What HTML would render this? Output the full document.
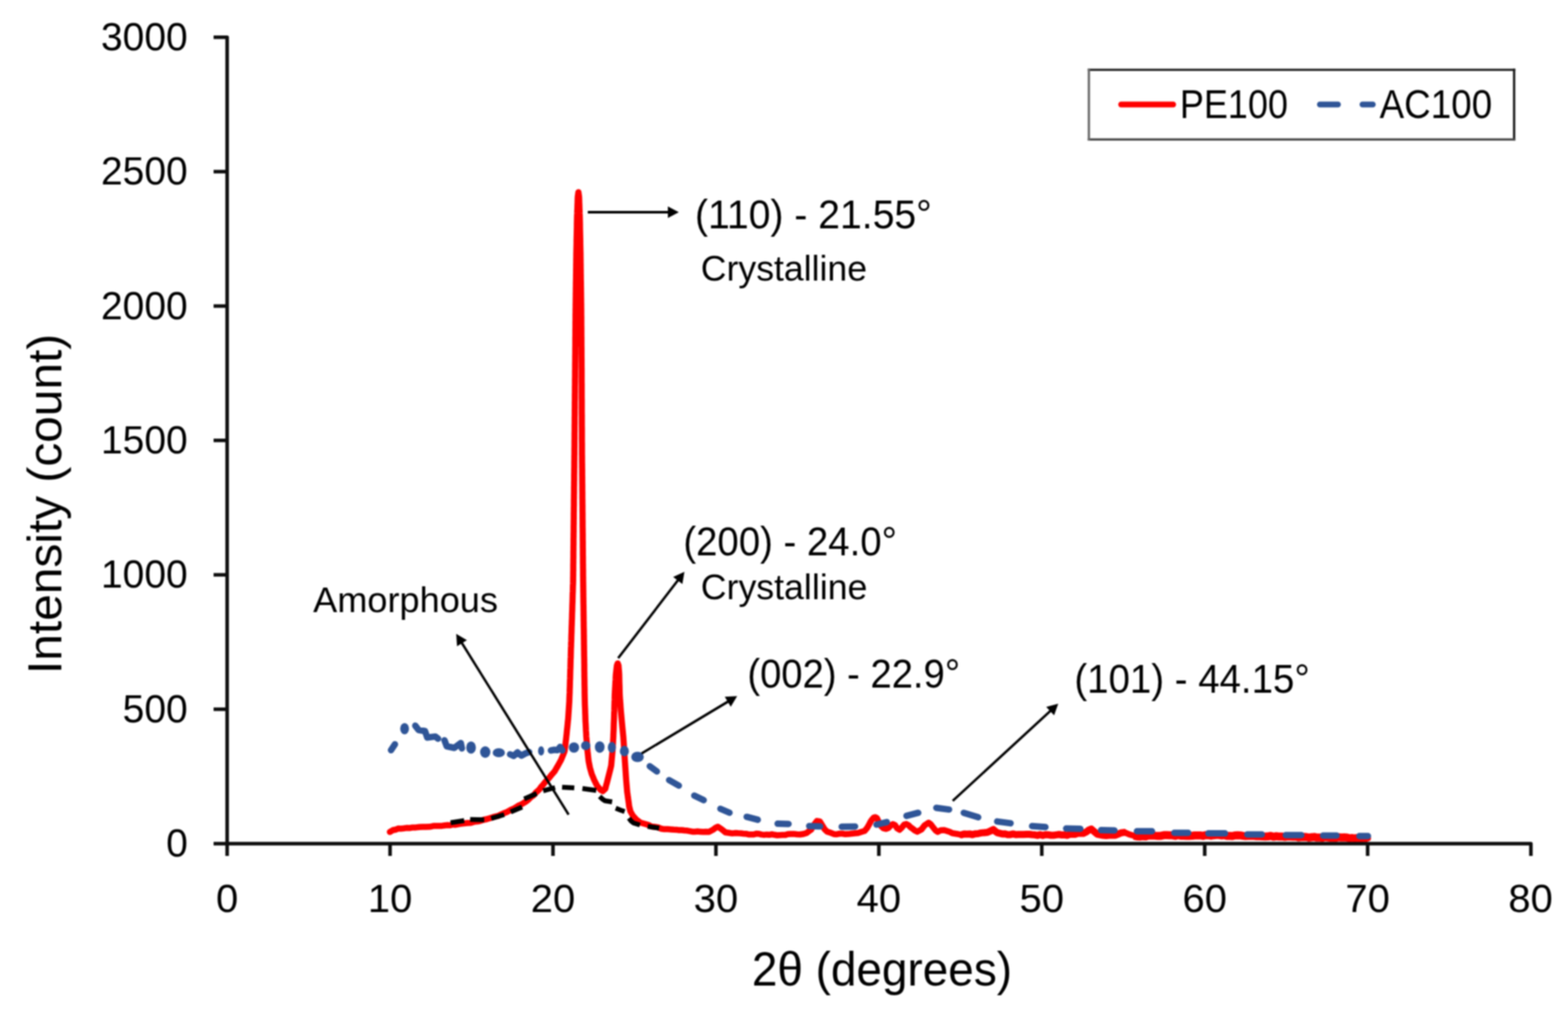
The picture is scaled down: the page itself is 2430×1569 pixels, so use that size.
<!DOCTYPE html><html><head><meta charset="utf-8"><title>XRD PE100 AC100</title><style>html,body{margin:0;padding:0;background:#fff;}svg{display:block;filter:blur(0.9px);}text{font-family:"Liberation Sans",sans-serif;fill:#000;}</style></head><body>
<svg width="2430" height="1569" viewBox="0 0 2430 1569">
<rect x="0" y="0" width="2430" height="1569" fill="#fff"/>
<polyline points="604.2,1289.8 609.0,1287.0 613.0,1286.3 617.0,1284.6 621.3,1284.7 625.7,1284.2 630.0,1283.6 634.8,1283.7 639.7,1282.9 644.5,1282.9 649.7,1282.2 654.8,1281.9 660.0,1281.9 665.9,1281.8 671.7,1280.6 676.1,1280.4 680.4,1280.4 684.8,1280.4 689.1,1279.7 693.5,1279.2 697.6,1279.5 701.8,1278.2 705.9,1278.7 710.0,1277.8 714.8,1277.1 719.6,1276.5 724.4,1276.1 729.6,1275.7 734.8,1274.1 740.0,1273.6 744.8,1272.5 749.5,1271.0 754.3,1270.0 760.0,1268.2 764.0,1266.9 768.0,1265.8 772.0,1265.0 776.4,1262.8 780.9,1260.7 785.3,1259.1 788.9,1257.1 792.4,1255.1 796.0,1253.8 799.6,1251.7 803.3,1249.2 807.0,1247.6 810.6,1245.5 814.8,1242.9 819.0,1239.7 823.2,1235.5 827.5,1232.5 830.3,1228.8 833.2,1226.3 836.0,1223.8 838.8,1219.8 841.6,1216.8 844.4,1213.0 848.2,1209.2 852.0,1204.8 855.8,1200.1 859.5,1195.9 862.0,1191.5 864.4,1187.5 867.0,1182.8 869.5,1178.2 872.5,1171.0 875.0,1164.5 875.5,1160.0 876.1,1155.4 876.6,1150.9 877.2,1146.3 877.7,1141.8 878.2,1137.2 878.6,1132.7 879.1,1128.2 879.6,1123.6 880.0,1119.0 880.5,1114.5 880.8,1110.0 881.1,1105.4 881.4,1100.9 881.7,1096.4 882.0,1091.8 882.3,1087.3 882.4,1082.8 882.6,1078.2 882.8,1073.7 882.9,1069.1 883.1,1064.5 883.2,1060.0 883.3,1055.9 883.5,1051.7 883.6,1047.6 883.7,1043.5 883.8,1039.3 884.0,1035.2 884.1,1031.1 884.2,1026.9 884.3,1022.8 884.5,1018.7 884.6,1014.5 884.7,1010.4 884.8,1006.1 885.0,1001.9 885.1,997.6 885.3,993.4 885.4,989.1 885.5,984.8 885.7,980.6 885.8,976.3 885.9,972.0 886.1,967.8 886.2,963.5 886.4,959.3 886.5,955.0 886.6,950.8 886.8,946.5 886.9,942.3 887.0,938.1 887.2,933.8 887.3,929.6 887.4,925.4 887.5,921.2 887.7,916.9 887.8,912.7 887.9,908.5 888.1,904.2 888.2,900.0 888.2,896.0 888.3,892.0 888.3,888.0 888.4,884.0 888.4,880.0 888.4,876.0 888.5,872.0 888.5,868.0 888.6,864.0 888.6,860.0 888.6,856.0 888.7,852.0 888.7,848.0 888.8,844.0 888.8,840.0 888.8,836.0 888.9,832.0 888.9,828.0 889.0,824.0 889.0,820.0 889.0,816.0 889.1,812.0 889.1,808.0 889.2,804.0 889.2,800.0 889.2,796.0 889.3,792.0 889.3,788.0 889.4,784.0 889.4,780.0 889.4,776.0 889.5,772.0 889.5,768.0 889.6,764.0 889.6,760.0 889.6,756.0 889.7,752.0 889.7,748.0 889.8,744.0 889.8,740.0 889.8,736.0 889.9,732.0 889.9,728.0 890.0,724.0 890.0,720.0 890.0,716.0 890.1,712.0 890.1,708.0 890.2,704.0 890.2,700.0 890.2,696.0 890.3,692.0 890.3,688.0 890.3,684.0 890.4,680.0 890.4,676.0 890.4,672.0 890.5,668.0 890.5,664.0 890.5,660.0 890.6,656.0 890.6,652.0 890.6,648.0 890.7,644.0 890.7,640.0 890.7,636.0 890.8,632.0 890.8,628.0 890.8,624.0 890.9,620.0 890.9,616.0 890.9,612.0 891.0,608.0 891.0,604.0 891.0,600.0 891.1,596.0 891.1,592.0 891.1,588.0 891.2,584.0 891.2,580.0 891.2,576.0 891.3,572.0 891.3,568.0 891.3,564.0 891.4,560.0 891.4,556.0 891.4,552.0 891.5,548.0 891.5,544.0 891.5,540.0 891.6,536.0 891.6,532.0 891.6,528.0 891.6,524.0 891.7,520.0 891.7,516.0 891.7,512.0 891.8,508.0 891.8,504.0 891.8,500.0 891.9,496.0 891.9,492.0 891.9,488.0 892.0,484.0 892.0,480.0 892.1,475.9 892.1,471.8 892.2,467.7 892.2,463.6 892.3,459.5 892.3,455.5 892.4,451.4 892.4,447.3 892.5,443.2 892.5,439.1 892.6,435.0 892.7,430.9 892.7,426.8 892.8,422.7 892.8,418.6 892.9,414.5 892.9,410.5 893.0,406.4 893.0,402.3 893.1,398.2 893.1,394.1 893.2,390.0 893.3,385.8 893.4,381.5 893.5,377.3 893.5,373.1 893.6,368.8 893.7,364.6 893.8,360.4 893.9,356.2 894.0,351.9 894.0,347.7 894.1,343.5 894.2,339.2 894.3,335.0 894.5,330.7 894.6,326.4 894.8,322.1 894.9,317.9 895.1,313.6 895.2,309.3 895.4,305.0 896.4,298.0 897.4,305.0 897.6,309.3 897.7,313.6 897.9,317.9 898.0,322.1 898.2,326.4 898.3,330.7 898.5,335.0 898.6,339.2 898.7,343.5 898.8,347.7 898.8,351.9 898.9,356.2 899.0,360.4 899.1,364.6 899.2,368.8 899.3,373.1 899.3,377.3 899.4,381.5 899.5,385.8 899.6,390.0 899.7,394.1 899.7,398.2 899.8,402.3 899.8,406.4 899.9,410.5 899.9,414.5 900.0,418.6 900.0,422.7 900.1,426.8 900.1,430.9 900.2,435.0 900.3,439.1 900.3,443.2 900.4,447.3 900.4,451.4 900.5,455.5 900.5,459.5 900.6,463.6 900.6,467.7 900.7,471.8 900.7,475.9 900.8,480.0 900.8,484.0 900.8,488.0 900.9,492.0 900.9,496.0 900.9,500.0 900.9,504.0 901.0,508.0 901.0,512.0 901.0,516.0 901.0,520.0 901.1,524.0 901.1,528.0 901.1,532.0 901.1,536.0 901.2,540.0 901.2,544.0 901.2,548.0 901.2,552.0 901.3,556.0 901.3,560.0 901.3,564.0 901.3,568.0 901.4,572.0 901.4,576.0 901.4,580.0 901.4,584.0 901.4,588.0 901.4,592.0 901.5,596.0 901.5,600.0 901.5,604.0 901.5,608.0 901.5,612.0 901.5,616.0 901.6,620.0 901.6,624.0 901.6,628.0 901.6,632.0 901.6,636.0 901.6,640.0 901.7,644.0 901.7,648.0 901.7,652.0 901.7,656.0 901.7,660.0 901.8,664.0 901.8,668.0 901.8,672.0 901.8,676.0 901.8,680.0 901.8,684.0 901.9,688.0 901.9,692.0 901.9,696.0 901.9,700.0 901.9,704.0 902.0,708.0 902.0,712.0 902.0,716.0 902.1,720.0 902.1,724.0 902.2,728.0 902.2,732.0 902.2,736.0 902.3,740.0 902.3,744.0 902.3,748.0 902.4,752.0 902.4,756.0 902.4,760.0 902.5,764.0 902.5,768.0 902.5,772.0 902.6,776.0 902.6,780.0 902.7,784.0 902.7,788.0 902.7,792.0 902.8,796.0 902.8,800.0 902.8,804.0 902.9,808.0 902.9,812.0 902.9,816.0 903.0,820.0 903.0,824.0 903.1,828.0 903.1,832.0 903.1,836.0 903.2,840.0 903.2,844.0 903.2,848.0 903.3,852.0 903.3,856.0 903.3,860.0 903.4,864.0 903.4,868.0 903.4,872.0 903.5,876.0 903.5,880.0 903.6,884.0 903.6,888.0 903.6,892.0 903.7,896.0 903.7,900.0 903.8,904.1 903.8,908.2 903.9,912.3 903.9,916.4 904.0,920.4 904.0,924.5 904.1,928.6 904.1,932.7 904.2,936.8 904.3,940.9 904.3,945.0 904.4,949.1 904.4,953.2 904.5,957.2 904.5,961.3 904.6,965.4 904.6,969.5 904.7,973.6 904.8,977.7 904.8,981.8 904.9,985.9 904.9,990.0 905.0,994.0 905.0,998.1 905.1,1002.2 905.1,1006.3 905.2,1010.4 905.2,1014.5 905.3,1018.7 905.4,1022.8 905.4,1026.9 905.5,1031.1 905.5,1035.2 905.5,1039.3 905.6,1043.5 905.6,1047.6 905.7,1051.7 905.8,1055.9 905.8,1060.0 905.9,1064.5 906.0,1069.1 906.0,1073.7 906.1,1078.2 906.2,1082.8 906.3,1087.3 906.4,1091.8 906.6,1096.4 906.8,1100.9 906.9,1105.4 907.1,1110.0 907.2,1114.5 907.4,1119.0 907.7,1123.6 907.9,1128.2 908.1,1132.7 908.4,1137.2 908.6,1141.8 909.0,1146.3 909.4,1150.9 909.7,1155.4 910.1,1160.0 910.5,1164.5 911.1,1169.7 911.6,1174.8 912.2,1180.0 913.2,1185.0 914.2,1190.0 915.6,1195.0 917.0,1200.0 918.9,1204.5 920.7,1209.0 923.1,1213.8 925.5,1218.5 930.6,1224.4 934.0,1226.6 938.0,1223.0 939.2,1218.3 940.5,1213.7 941.7,1209.0 943.1,1203.5 944.5,1198.0 945.9,1192.5 947.2,1186.9 947.6,1182.5 948.0,1178.1 948.4,1173.8 948.8,1169.4 949.2,1165.0 949.5,1160.6 949.7,1156.1 950.0,1151.7 950.2,1147.2 950.5,1142.8 950.6,1138.7 950.8,1134.6 951.0,1130.5 951.1,1126.4 951.2,1122.3 951.4,1118.2 951.6,1114.1 951.7,1110.0 951.8,1105.8 952.0,1101.7 952.1,1097.5 952.2,1093.3 952.3,1089.1 952.5,1084.9 952.6,1080.8 952.7,1076.6 953.0,1072.1 953.2,1067.6 953.5,1063.1 953.7,1058.5 954.0,1054.0 954.2,1049.5 954.5,1045.0 955.0,1040.7 955.5,1036.3 956.0,1032.0 957.3,1028.5 958.6,1032.0 958.9,1036.3 959.3,1040.7 959.6,1045.0 959.7,1049.5 959.8,1054.0 959.9,1058.5 960.1,1063.1 960.2,1067.6 960.3,1072.1 960.4,1076.6 960.7,1081.3 961.0,1086.0 961.4,1090.6 961.7,1095.3 962.0,1100.0 962.4,1104.4 962.8,1108.8 963.2,1113.2 963.6,1117.6 964.0,1122.0 964.4,1126.2 964.8,1130.3 965.2,1134.5 965.6,1138.6 966.0,1142.8 966.3,1147.2 966.6,1151.6 966.9,1156.0 967.1,1160.4 967.4,1164.8 967.7,1169.2 968.0,1173.6 968.3,1178.0 968.6,1182.4 968.9,1186.9 969.2,1191.3 969.5,1195.7 969.8,1200.1 970.1,1204.6 970.4,1209.0 970.8,1213.8 971.2,1218.5 971.6,1223.2 972.0,1228.0 972.6,1232.0 973.1,1236.0 973.7,1240.0 974.4,1245.0 975.0,1250.0 976.0,1254.0 977.0,1258.0 979.0,1261.5 981.0,1265.0 986.0,1270.5 989.4,1273.0 992.8,1275.5 1000.0,1277.5 1005.0,1279.0 1010.0,1281.6 1014.8,1282.0 1019.5,1282.6 1024.3,1284.7 1029.5,1285.6 1034.8,1285.6 1040.0,1285.9 1044.1,1286.3 1048.3,1286.4 1052.4,1287.1 1056.6,1287.0 1060.7,1287.5 1064.9,1287.8 1069.0,1288.6 1073.0,1289.4 1077.0,1289.4 1081.0,1289.1 1085.0,1289.4 1089.6,1289.7 1094.3,1289.6 1098.9,1289.7 1105.0,1286.3 1108.7,1283.6 1112.4,1281.7 1118.0,1285.4 1124.3,1290.5 1129.5,1291.2 1134.8,1292.1 1140.0,1291.5 1144.0,1291.8 1148.0,1292.0 1152.0,1292.4 1156.0,1292.7 1160.0,1293.7 1164.0,1293.7 1168.0,1293.8 1172.0,1292.6 1176.0,1292.7 1180.0,1293.9 1184.1,1294.4 1188.1,1293.9 1192.2,1294.3 1196.2,1293.5 1200.3,1294.3 1204.4,1295.0 1208.5,1294.7 1212.7,1294.6 1216.8,1294.6 1220.9,1293.3 1225.0,1292.9 1230.0,1292.9 1235.0,1293.5 1240.0,1293.8 1245.0,1293.0 1250.0,1291.4 1253.5,1288.7 1257.0,1286.4 1259.5,1281.9 1262.0,1278.1 1266.0,1272.8 1268.3,1273.3 1270.5,1273.4 1274.0,1279.2 1276.0,1282.5 1278.0,1285.7 1282.0,1289.4 1287.2,1291.1 1292.4,1293.2 1296.8,1293.4 1301.2,1292.5 1305.6,1292.5 1310.0,1293.3 1314.6,1293.1 1319.3,1292.5 1323.9,1292.0 1329.5,1291.6 1335.0,1289.7 1340.0,1288.2 1344.0,1283.4 1347.0,1278.2 1349.0,1274.2 1351.0,1271.1 1354.0,1267.8 1356.4,1266.9 1359.0,1268.4 1362.0,1274.7 1365.0,1280.3 1369.0,1284.2 1373.1,1285.0 1377.0,1283.5 1380.5,1279.8 1383.6,1277.8 1387.0,1279.1 1390.5,1284.3 1394.1,1286.5 1398.0,1282.6 1401.5,1278.3 1404.6,1277.6 1408.0,1279.4 1411.0,1282.5 1414.0,1284.5 1417.7,1287.5 1421.3,1289.4 1428.0,1286.0 1433.0,1279.5 1436.5,1277.3 1439.2,1275.5 1442.0,1277.5 1446.0,1282.6 1450.0,1287.6 1453.0,1289.7 1458.0,1287.2 1463.3,1286.9 1468.0,1288.5 1471.9,1289.8 1475.8,1291.8 1480.5,1292.5 1485.3,1293.3 1490.0,1294.2 1494.2,1292.9 1498.5,1293.2 1502.8,1292.9 1507.0,1294.1 1511.2,1292.7 1515.5,1292.5 1520.3,1291.4 1525.2,1290.9 1530.0,1290.6 1534.7,1288.5 1539.4,1286.1 1542.7,1288.9 1546.0,1291.2 1553.2,1292.9 1557.4,1292.8 1561.6,1294.1 1565.8,1293.9 1570.0,1292.9 1574.2,1294.0 1578.3,1293.7 1582.5,1293.8 1586.7,1293.8 1590.9,1293.6 1595.1,1293.5 1599.3,1294.0 1603.5,1294.3 1607.7,1295.2 1611.9,1293.9 1616.1,1295.2 1620.3,1294.0 1624.5,1294.3 1628.7,1295.0 1632.8,1295.0 1637.0,1294.4 1641.2,1293.8 1645.4,1294.5 1649.6,1294.3 1653.8,1295.2 1658.0,1293.5 1662.2,1293.3 1666.4,1293.6 1670.6,1291.7 1674.8,1291.9 1679.0,1292.0 1683.1,1290.1 1687.1,1287.1 1691.2,1285.3 1697.0,1290.3 1700.6,1293.4 1704.2,1294.1 1709.2,1295.1 1714.1,1295.6 1719.0,1295.0 1724.0,1295.1 1728.5,1294.9 1733.0,1293.1 1737.4,1291.2 1741.9,1290.6 1746.0,1291.9 1750.0,1293.6 1757.4,1295.7 1761.9,1296.8 1766.4,1297.0 1771.0,1296.4 1775.5,1296.8 1780.0,1295.2 1784.8,1295.4 1789.5,1295.6 1794.3,1296.1 1799.0,1295.9 1803.8,1294.8 1808.2,1294.7 1812.5,1295.0 1816.9,1295.1 1821.2,1295.9 1825.6,1294.7 1830.0,1295.8 1834.3,1295.7 1838.7,1295.9 1843.0,1295.9 1847.4,1295.7 1851.6,1295.2 1855.8,1295.2 1860.0,1295.2 1864.2,1295.9 1868.4,1294.7 1872.6,1294.9 1876.7,1295.7 1880.9,1294.9 1885.1,1294.6 1889.3,1294.5 1893.5,1295.3 1897.7,1294.9 1901.7,1296.1 1905.8,1296.0 1909.8,1296.3 1913.8,1295.2 1917.9,1295.0 1921.9,1295.2 1926.0,1295.9 1930.0,1296.3 1934.3,1296.0 1938.7,1295.7 1943.0,1296.1 1947.4,1296.4 1951.8,1296.6 1956.1,1296.8 1960.5,1297.0 1964.8,1296.8 1969.2,1296.0 1973.6,1297.3 1978.0,1296.5 1982.4,1297.1 1986.8,1296.9 1991.2,1297.6 1995.6,1296.9 2000.0,1297.1 2004.1,1297.2 2008.2,1297.1 2012.3,1298.3 2016.4,1297.9 2020.5,1297.5 2024.6,1297.7 2028.7,1298.7 2032.8,1298.0 2036.8,1297.6 2040.9,1298.6 2045.0,1298.4 2049.1,1299.0 2053.2,1297.7 2057.3,1298.3 2061.4,1298.9 2065.5,1299.0 2069.8,1299.3 2074.1,1298.0 2078.4,1298.5 2082.8,1298.3 2087.1,1298.5 2091.4,1299.9 2095.7,1299.3 2100.0,1300.0 2104.0,1299.2 2108.0,1300.1 2112.0,1299.5 2116.0,1299.3 2120.0,1299.8" fill="none" stroke="#ff0000" stroke-width="9.5" stroke-linejoin="round" stroke-linecap="round"/>
<polyline points="1490.0,1294.2 1494.2,1292.9 1498.5,1293.2 1502.8,1292.9 1507.0,1294.1 1511.2,1292.7 1515.5,1292.5 1520.3,1291.4 1525.2,1290.9 1530.0,1290.6 1534.7,1288.5 1539.4,1286.1 1542.7,1288.9 1546.0,1291.2 1553.2,1292.9 1557.4,1292.8 1561.6,1294.1 1565.8,1293.9 1570.0,1292.9 1574.2,1294.0 1578.3,1293.7 1582.5,1293.8 1586.7,1293.8 1590.9,1293.6 1595.1,1293.5 1599.3,1294.0 1603.5,1294.3 1607.7,1295.2 1611.9,1293.9 1616.1,1295.2 1620.3,1294.0 1624.5,1294.3 1628.7,1295.0 1632.8,1295.0 1637.0,1294.4 1641.2,1293.8 1645.4,1294.5 1649.6,1294.3 1653.8,1295.2 1658.0,1293.5 1662.2,1293.3 1666.4,1293.6 1670.6,1291.7 1674.8,1291.9 1679.0,1292.0 1683.1,1290.1 1687.1,1287.1 1691.2,1285.3 1697.0,1290.3 1700.6,1293.4 1704.2,1294.1 1709.2,1295.1 1714.1,1295.6 1719.0,1295.0 1724.0,1295.1 1728.5,1294.9 1733.0,1293.1 1737.4,1291.2 1741.9,1290.6" fill="none" stroke="#ff0000" stroke-width="11" stroke-linejoin="round" stroke-linecap="round"/>
<polyline points="1757.4,1295.7 1761.9,1296.8 1766.4,1297.0 1771.0,1296.4 1775.5,1296.8 1780.0,1295.2 1784.8,1295.4 1789.5,1295.6 1794.3,1296.1 1799.0,1295.9 1803.8,1294.8 1808.2,1294.7 1812.5,1295.0 1816.9,1295.1 1821.2,1295.9 1825.6,1294.7 1830.0,1295.8 1834.3,1295.7 1838.7,1295.9 1843.0,1295.9 1847.4,1295.7 1851.6,1295.2 1855.8,1295.2 1860.0,1295.2 1864.2,1295.9 1868.4,1294.7 1872.6,1294.9 1876.7,1295.7 1880.9,1294.9 1885.1,1294.6 1889.3,1294.5 1893.5,1295.3 1897.7,1294.9 1901.7,1296.1 1905.8,1296.0 1909.8,1296.3 1913.8,1295.2 1917.9,1295.0 1921.9,1295.2 1926.0,1295.9 1930.0,1296.3 1934.3,1296.0 1938.7,1295.7 1943.0,1296.1 1947.4,1296.4 1951.8,1296.6 1956.1,1296.8 1960.5,1297.0 1964.8,1296.8 1969.2,1296.0 1973.6,1297.3 1978.0,1296.5 1982.4,1297.1 1986.8,1296.9 1991.2,1297.6 1995.6,1296.9 2000.0,1297.1 2004.1,1297.2 2008.2,1297.1 2012.3,1298.3 2016.4,1297.9 2020.5,1297.5 2024.6,1297.7 2028.7,1298.7 2032.8,1298.0 2036.8,1297.6 2040.9,1298.6 2045.0,1298.4 2049.1,1299.0 2053.2,1297.7 2057.3,1298.3 2061.4,1298.9 2065.5,1299.0 2069.8,1299.3 2074.1,1298.0 2078.4,1298.5 2082.8,1298.3 2087.1,1298.5 2091.4,1299.9 2095.7,1299.3 2100.0,1300.0 2104.0,1299.2 2108.0,1300.1 2112.0,1299.5 2116.0,1299.3 2120.0,1299.8" fill="none" stroke="#ff0000" stroke-width="12.5" stroke-linejoin="round" stroke-linecap="butt"/>
<path d="M606.0,1163.0 L612.0,1154.0 M643.6,1125.1 L648.7,1131.8 L658.7,1133.5 L662.1,1143.5 L674.7,1141.9 L678.9,1145.2 M688.9,1147.7 L692.3,1157.0 L704.0,1159.5 L714.1,1151.9 L715.8,1160.3 M790.5,1169.5 L796.0,1172.0 L802.0,1166.5 L808.0,1171.5 L814.5,1168.0 L820.0,1166.0 M853.8,1163.5 L859.0,1162.5 L864.0,1163.0 L868.0,1158.0 L871.5,1163.5 M1007.0,1188.0 L1018.0,1196.0 M1037.0,1209.5 L1052.0,1218.0 M1076.0,1233.5 L1090.5,1240.5 M1116.5,1254.0 L1130.5,1260.0 M1157.2,1266.4 L1174.3,1270.9 M1205.1,1277.0 L1222.0,1277.4 M1254.1,1280.7 L1271.0,1281.2 M1304.5,1281.8 L1325.1,1281.4 M1358.4,1278.5 L1374.3,1274.6 M1404.9,1264.9 L1423.0,1260.2 M1451.1,1252.5 L1470.8,1255.1 M1493.6,1260.2 L1515.9,1267.0 M1545.4,1273.6 L1566.1,1276.4 M1599.5,1280.8 L1620.1,1282.3 M1652.3,1284.5 L1674.2,1284.9 M1706.4,1287.0 L1727.1,1287.4 M1762.0,1288.8 L1785.2,1288.8 M1819.9,1291.3 L1841.4,1291.3 M1872.7,1292.1 L1898.4,1292.1 M1933.1,1293.8 L1955.5,1293.8 M1992.7,1294.7 L2016.7,1294.7 M2050.5,1295.5 L2071.3,1295.5 M2106.7,1296.3 L2119.9,1296.3" fill="none" stroke="#2f5597" stroke-width="10" stroke-linejoin="round" stroke-linecap="round"/>
<g fill="#2f5597"><ellipse cx="627" cy="1129.7" rx="6.80" ry="8.75"/><ellipse cx="730" cy="1159" rx="7.50" ry="9.50"/><ellipse cx="752" cy="1166" rx="8.00" ry="9.00"/><ellipse cx="773" cy="1167" rx="9.50" ry="7.00"/><ellipse cx="838.6" cy="1164.2" rx="4.75" ry="7.25"/><ellipse cx="889.5" cy="1159" rx="8.00" ry="8.00"/><ellipse cx="907.7" cy="1156" rx="7.25" ry="7.00"/><ellipse cx="929.4" cy="1158.2" rx="7.50" ry="9.00"/><ellipse cx="948.2" cy="1158.8" rx="6.25" ry="8.50"/><ellipse cx="967.6" cy="1164.5" rx="7.00" ry="8.20"/><ellipse cx="988" cy="1173.5" rx="9.75" ry="8.00"/></g>
<path d="M698.4,1275.5 L719.4,1272.2 M728.6,1270.5 L750.4,1271.0 M761.3,1268.8 L781.4,1263.0 M791.5,1258.8 L809.1,1251.2 M812.4,1238.6 L831.7,1230.3 M841.8,1226.1 L860.2,1221.0 M871.1,1220.4 L890.0,1221.6 M902.6,1222.5 L924.0,1225.5 M929.3,1234.8 L933.5,1238.8 L937.6,1241.5 L948.6,1243.3 M954.2,1253.1 L961.0,1255.8 L968.0,1258.2 M974.6,1268.5 L978.0,1272.8 L981.8,1276.0 L991.7,1279.0 M1003.8,1281.2 L1021.5,1284.0" fill="none" stroke="#000" stroke-width="7.5" stroke-linejoin="round" stroke-linecap="butt"/>
<g stroke="#0d0d0d" stroke-width="5.5" fill="none">
<path d="M331,57.7 H352 V1308" stroke-linejoin="round"/>
<path d="M331,1308 H2372.5 V1327" stroke-linejoin="round"/>
<path d="M331,266.1 H352"/>
<path d="M331,474.5 H352"/>
<path d="M331,682.8 H352"/>
<path d="M331,891.2 H352"/>
<path d="M331,1099.6 H352"/>
<path d="M352.0,1308 V1327"/>
<path d="M604.5,1308 V1327"/>
<path d="M857.0,1308 V1327"/>
<path d="M1109.5,1308 V1327"/>
<path d="M1362.0,1308 V1327"/>
<path d="M1614.5,1308 V1327"/>
<path d="M1867.0,1308 V1327"/>
<path d="M2119.5,1308 V1327"/>
</g>
<text x="291" y="77.7" font-size="62" text-anchor="end" textLength="134.5" lengthAdjust="spacingAndGlyphs">3000</text>
<text x="291" y="286.1" font-size="62" text-anchor="end" textLength="134.5" lengthAdjust="spacingAndGlyphs">2500</text>
<text x="291" y="494.5" font-size="62" text-anchor="end" textLength="134.5" lengthAdjust="spacingAndGlyphs">2000</text>
<text x="291" y="702.8" font-size="62" text-anchor="end" textLength="134.5" lengthAdjust="spacingAndGlyphs">1500</text>
<text x="291" y="911.2" font-size="62" text-anchor="end" textLength="134.5" lengthAdjust="spacingAndGlyphs">1000</text>
<text x="291" y="1119.6" font-size="62" text-anchor="end" textLength="100.9" lengthAdjust="spacingAndGlyphs">500</text>
<text x="291" y="1328.0" font-size="62" text-anchor="end" textLength="33.6" lengthAdjust="spacingAndGlyphs">0</text>
<text x="352.0" y="1413.5" font-size="62" text-anchor="middle">0</text>
<text x="604.5" y="1413.5" font-size="62" text-anchor="middle">10</text>
<text x="857.0" y="1413.5" font-size="62" text-anchor="middle">20</text>
<text x="1109.5" y="1413.5" font-size="62" text-anchor="middle">30</text>
<text x="1362.0" y="1413.5" font-size="62" text-anchor="middle">40</text>
<text x="1614.5" y="1413.5" font-size="62" text-anchor="middle">50</text>
<text x="1867.0" y="1413.5" font-size="62" text-anchor="middle">60</text>
<text x="2119.5" y="1413.5" font-size="62" text-anchor="middle">70</text>
<text x="2372.0" y="1413.5" font-size="62" text-anchor="middle">80</text>
<text x="1077.1" y="354.0" font-size="63" textLength="367.0" lengthAdjust="spacingAndGlyphs">(110) - 21.55°</text>
<text x="1059.0" y="861.4" font-size="63" textLength="331.0" lengthAdjust="spacingAndGlyphs">(200) - 24.0°</text>
<text x="1158.2" y="1065.6" font-size="63" textLength="329.7" lengthAdjust="spacingAndGlyphs">(002) - 22.9°</text>
<text x="1665.0" y="1073.7" font-size="63" textLength="364.7" lengthAdjust="spacingAndGlyphs">(101) - 44.15°</text>
<text x="1086.0" y="435.0" font-size="55" textLength="257.8" lengthAdjust="spacingAndGlyphs">Crystalline</text>
<text x="1086.0" y="928.8" font-size="55" textLength="258.3" lengthAdjust="spacingAndGlyphs">Crystalline</text>
<text x="485.3" y="948.6" font-size="56" textLength="286.4" lengthAdjust="spacingAndGlyphs">Amorphous</text>
<text x="1165.2" y="1527.8" font-size="74" textLength="403.2" lengthAdjust="spacingAndGlyphs">2θ (degrees)</text>
<text transform="translate(94.5,1045.0) rotate(-90)" x="0" y="0" font-size="74" textLength="527.5" lengthAdjust="spacingAndGlyphs">Intensity (count)</text>
<rect x="1687.5" y="108.3" width="659" height="108" fill="#fff"/>
<g stroke-width="3.6" stroke-linecap="square" fill="none"><path d="M1687.5,108.3 H2346.5" stroke="#262626"/><path d="M2346.5,108.3 V216.3" stroke="#1a1a1a"/><path d="M1687.5,216.3 H2346.5" stroke="#474747"/><path d="M1687.5,108.3 V216.3" stroke="#6a6a6a"/></g>
<line x1="1737.5" y1="162" x2="1818.1" y2="162" stroke="#ff0000" stroke-width="9" stroke-linecap="round"/>
<path d="M2045.5,162 H2073.5 M2111.5,162 H2127.5" stroke="#2f5597" stroke-width="9" stroke-linecap="round" fill="none"/>
<text x="1828.5" y="183.0" font-size="63" textLength="167.4" lengthAdjust="spacingAndGlyphs">PE100</text>
<text x="2138.0" y="183.0" font-size="63" textLength="174.4" lengthAdjust="spacingAndGlyphs">AC100</text>
<line x1="910.9" y1="329.0" x2="1037.0" y2="329.0" stroke="#000" stroke-width="3.8"/>
<polygon points="1052.0,329.0 1035.0,338.0 1035.0,320.0" fill="#000"/>
<line x1="958.0" y1="1020.4" x2="1051.6" y2="898.4" stroke="#000" stroke-width="3.8"/>
<polygon points="1060.7,886.5 1057.5,905.5 1043.2,894.5" fill="#000"/>
<line x1="881.2" y1="1262.9" x2="714.9" y2="995.5" stroke="#000" stroke-width="3.8"/>
<polygon points="707.0,982.8 723.6,992.5 708.3,1002.0" fill="#000"/>
<line x1="994.4" y1="1168.1" x2="1129.5" y2="1087.0" stroke="#000" stroke-width="3.8"/>
<polygon points="1142.4,1079.3 1132.5,1095.8 1123.2,1080.3" fill="#000"/>
<line x1="1476.5" y1="1241.6" x2="1629.0" y2="1101.2" stroke="#000" stroke-width="3.8"/>
<polygon points="1640.0,1091.0 1633.6,1109.1 1621.4,1095.9" fill="#000"/>
</svg></body></html>
